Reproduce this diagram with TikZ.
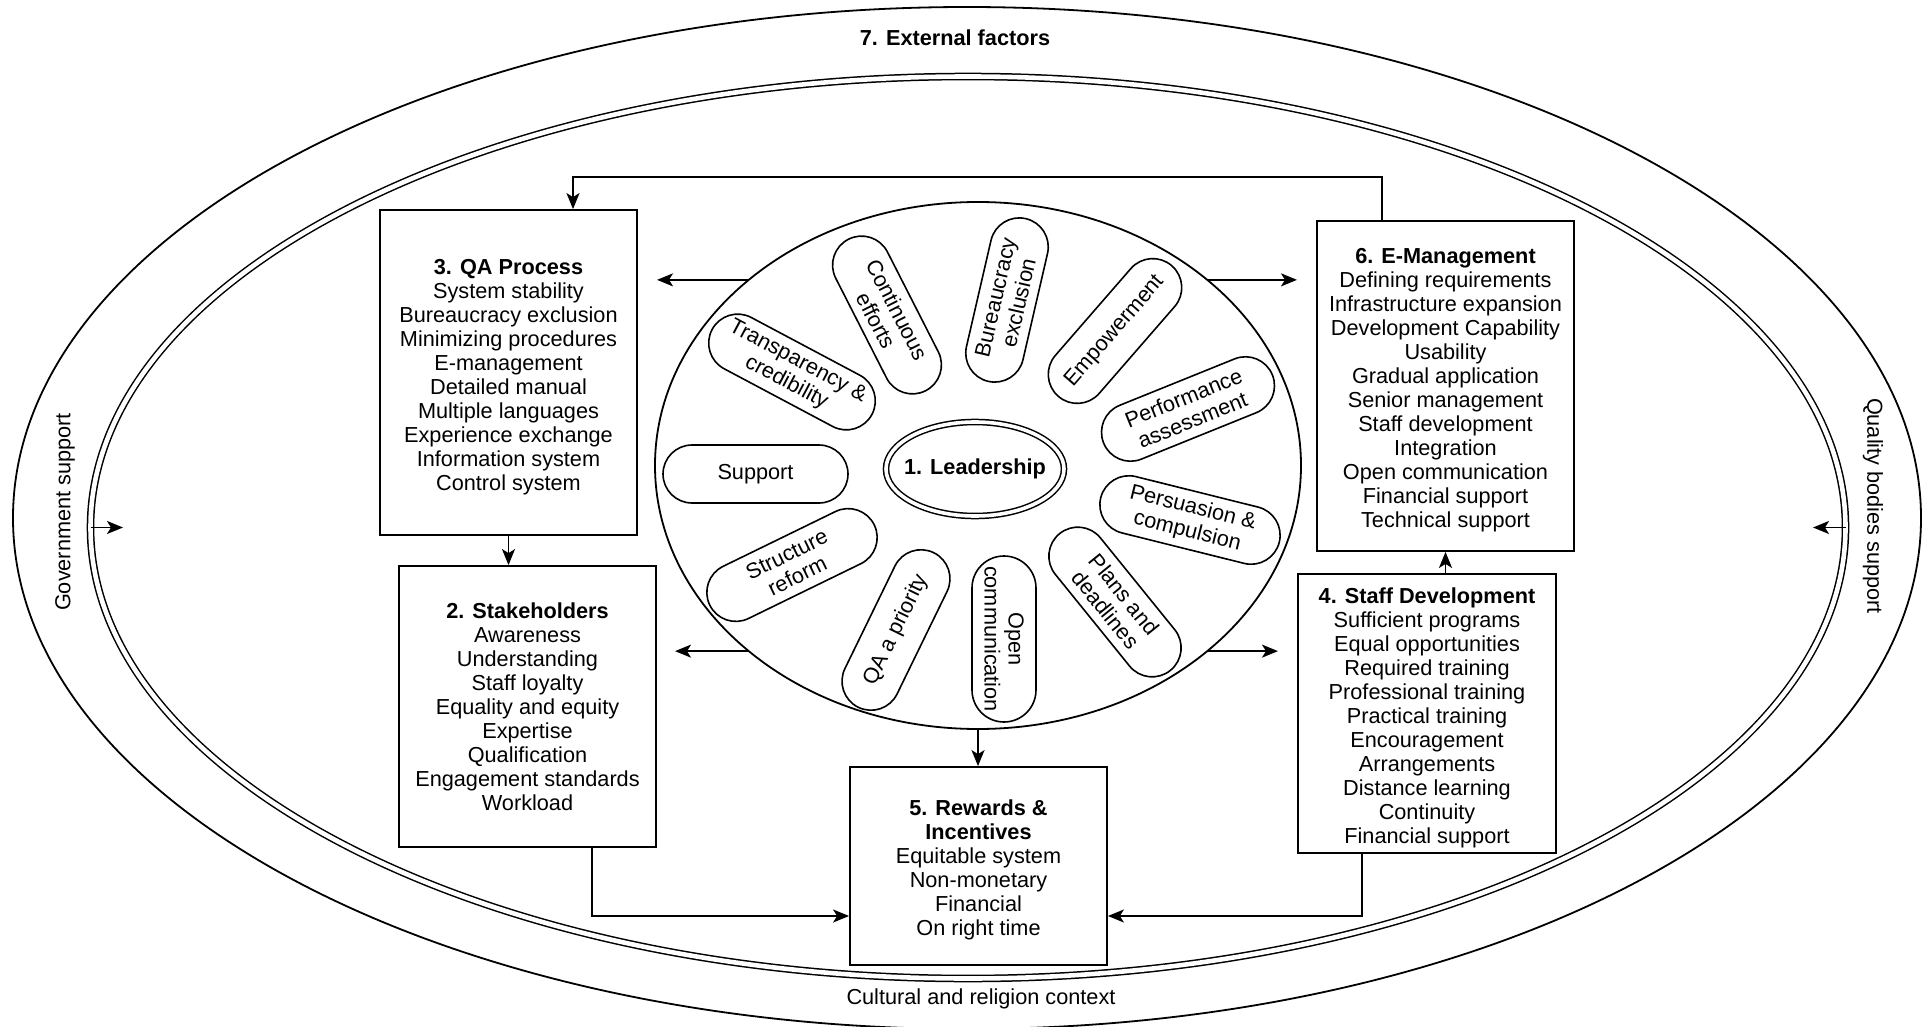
\documentclass[tikz,border=0pt]{standalone}
\usepackage{fontspec}
\setmainfont{Liberation Sans}
\usetikzlibrary{shapes.geometric,arrows.meta}
\newcommand\dfs{\fontsize{21.7pt}{24pt}\selectfont}
\newcommand\topstrut{\rule{0pt}{24pt}}
\begin{document}
\begin{tikzpicture}[x=1pt,y=-1pt,
  arr/.style={line width=1.8pt,-{Stealth[length=16pt,width=13pt,inset=4pt]}},
  box/.style={draw,line width=1.8pt,rectangle,align=center,inner sep=0pt,font=\dfs},
  pill/.style={draw,line width=1.6pt,rectangle,rounded corners=29pt,minimum width=175pt,minimum height=58pt,align=center,inner sep=1pt,font=\dfs},
  ell/.style={draw,ellipse,inner sep=0pt,outer sep=0pt,line width=1.8pt},
  lbl/.style={font=\dfs,inner sep=0pt}
]
\useasboundingbox[fill=white] (0,0) rectangle (1923,1027);
% ellipses
\node[ell,minimum width=1908pt,minimum height=1022pt] (outer) at (967,518) {};
\node[ell,double,double distance=4.6pt,line width=1.5pt,minimum width=1755pt,minimum height=902pt] (inner) at (968,527.5) {};
\node[ell,minimum width=646pt,minimum height=527pt] (circ) at (978,465.5) {};
\node[ell,double,double distance=3.6pt,line width=1.5pt,minimum width=178pt,minimum height=94pt,inner xsep=-15pt,font=\dfs\bfseries] (lead) at (975,469) {1. Leadership};
% pills
\node[pill,minimum width=185pt] (p1) at (755.5,474) {Support};
\node[pill,rotate=-28,minimum width=181pt] (p2) at (792,372) {Transparency \&\\credibility};
\node[pill,rotate=-63,minimum width=170pt] (p3) at (887,315) {Continuous\\efforts};
\node[pill,rotate=77,minimum width=167pt] (p4) at (1007,300) {Bureaucracy\\exclusion};
\node[pill,rotate=49,minimum width=173pt] (p5) at (1115,331) {Empowerment};
\node[pill,rotate=22,minimum width=182pt] (p6) at (1188,409) {Performance\\assessment};
\node[pill,rotate=-14,minimum width=184pt] (p7) at (1190,520) {Persuasion \&\\compulsion};
\node[pill,rotate=-51,minimum width=176pt] (p8) at (1115,602) {Plans and\\deadlines};
\node[pill,rotate=-90,minimum width=166pt,minimum height=64pt,rounded corners=32pt] (p9) at (1004,639) {Open\\communication};
\node[pill,rotate=64,minimum width=172pt] (p10) at (896,630) {QA a priority};
\node[pill,rotate=26,minimum width=183pt] (p11) at (792,565) {Structure\\reform};
% boxes
\node[box,minimum width=257pt,minimum height=325pt] (QA) at (508.5,372.5)
  {\topstrut\textbf{3. QA Process}\\System stability\\Bureaucracy exclusion\\Minimizing procedures\\E-management\\Detailed manual\\Multiple languages\\Experience exchange\\Information system\\Control system};
\node[box,minimum width=257pt,minimum height=281pt] (SH) at (527.5,706.5)
  {\textbf{2. Stakeholders}\\Awareness\\Understanding\\Staff loyalty\\Equality and equity\\Expertise\\Qualification\\Engagement standards\\Workload};
\node[box,minimum width=257pt,minimum height=198pt] (RW) at (978.5,866)
  {\topstrut\textbf{5. Rewards \&}\\\textbf{Incentives}\\Equitable system\\Non-monetary\\Financial\\On right time};
\node[box,minimum width=258pt,minimum height=279pt] (SD) at (1427,713.5)
  {\topstrut\textbf{4. Staff Development}\\Sufficient programs\\Equal opportunities\\Required training\\Professional training\\Practical training\\Encouragement\\Arrangements\\Distance learning\\Continuity\\Financial support};
\node[box,minimum width=257pt,minimum height=330pt] (EM) at (1445.5,386)
  {\topstrut\textbf{6. E-Management}\\Defining requirements\\Infrastructure expansion\\Development Capability\\Usability\\Gradual application\\Senior management\\Staff development\\Integration\\Open communication\\Financial support\\Technical support};
% labels
\node[lbl,font=\dfs\bfseries] (ext) at (955,38) {7. External factors};
\node[lbl] (cult) at (981,999) {Cultural and religion context};
\node[lbl,rotate=90] (gov) at (65,512) {Government support};
\node[lbl,rotate=-90] (qual) at (1873,506) {Quality bodies support};
% coordinates
\coordinate (tQA) at (657,279);
\coordinate (tEM) at (1297,279);
\coordinate (tSH) at (675,653);
\coordinate (tSD) at (1278,652);
\coordinate (loopL) at (573,177);
\coordinate (loopR) at (1382,177);
\coordinate (bl) at (592,916);
\coordinate (br) at (1362,916);
\coordinate (gsT) at (123,0);
\coordinate (qbT) at (1813,0);
% connectors
\draw[arr] (circ.141) -- (circ.141 -| tQA);
\draw[arr] (circ.39) -- (circ.39 -| tEM);
\draw[arr] (circ.219) -- (circ.219 -| tSH);
\draw[arr] (circ.321) -- (circ.321 -| tSD);
\draw[arr] (circ.south) -- (circ.south |- RW.north);
\draw[arr] (QA.south) -- (QA.south |- SH.north);
\draw[arr] (EM.south |- SD.north) -- (EM.south);
\draw[arr] (EM.north -| loopR) -- (loopR) -- (loopL) -- (QA.north -| loopL);
\draw[arr] (SH.south -| bl) -- (bl) -- (RW.west |- bl);
\draw[arr] (SD.south -| br) -- (br) -- (RW.east |- br);
\draw[arr] (inner.west) -- (inner.west -| gsT);
\draw[arr] (inner.east) -- (inner.east -| qbT);
\end{tikzpicture}
\end{document}
